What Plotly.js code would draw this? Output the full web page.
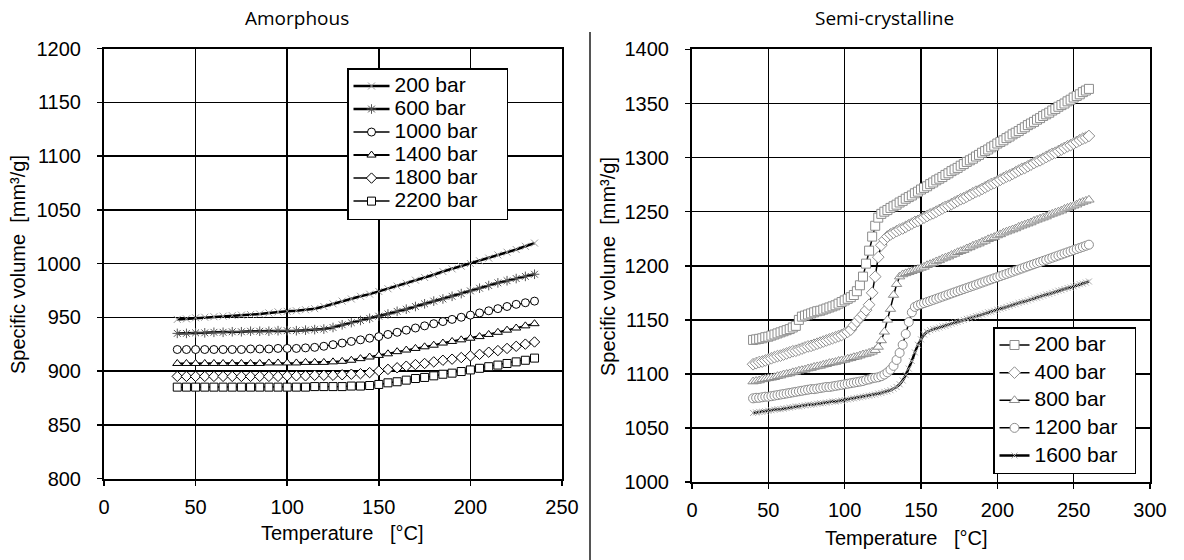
<!DOCTYPE html>
<html><head><meta charset="utf-8">
<script src="https://cdn.plot.ly/plotly-3.0.1.min.js"></script>
<style>html,body{margin:0;padding:0;background:#fff}#chart{width:1184px;height:560px}</style>
</head><body><div id="chart"></div>
<script>
// ---------- Amorphous (left) ----------
const tempAmorphous = [40,45,50,55,60,65,70,75,80,85,90,95,100,105,110,115,120,125,130,135,
  140,145,150,155,160,165,170,175,180,185,190,195,200,205,210,215,220,225,230,235];
const amorph200 = [948,948.5,949.5,950,950.5,951,951.5,952,952.5,953,954,955,955.5,956,957,958,960,962.5,965,967,
  969.5,971.5,974,976.5,979,981.5,984.5,987,989.5,992.5,995,997.5,1000,1002.5,1005,1008,1010.5,1013,1016,1019];
const amorph600 = [935,935,935.5,935.5,936,936,936.5,936.5,937,937,937,937.5,937.5,937.5,938,938.5,939,940.5,943,945,
  947,949,951,953,955.5,957.5,960,962.5,965,967,969.5,972,974.5,977,979.5,982,984,986,988,990];
const amorph1000 = [920,920,920,920,920,920,920,920,920.5,920.5,920.5,921,921,921,921.5,922,923,924.5,926,927.5,
  929,930.5,932,934,936,938,940,942,944,946,948,950,952,954,956,958,960,962,963.5,965];
const amorph1400 = [907,907,907,907,907,907,907,907,907,907,907.5,907.5,907.5,907.5,908,908,908,908.5,909,910,
  911.5,913,914.5,916,918,919.5,921,922.5,924,926,927.5,929,930.5,932,934,936,938,940,942,944];
const amorph1800 = [895,895,895,895,895,895,895,895,895,895,895,895,895.5,895.5,895.5,896,896,896,896.5,897,
  897.5,898.5,900,901.5,903,904.5,906,907,908.5,910,911,912.5,914,915.5,917.5,919,921,923,925,927];
const amorph2200 = [885,885,885,885,885,885,885,885,885,885,885,885,885,885,885,885.5,885.5,885.5,885.5,886,
  886,886.5,887.5,889,890,891.5,893,894,895.5,897,898,899.5,901,902.5,904,905.5,907,908.5,910,912];
const amorphNames = ['200 bar','600 bar','1000 bar','1400 bar','1800 bar','2200 bar'];

// ---------- Semi-crystalline (right) ----------
const tempSemi = [40,42,44,46,48,50,52,54,56,58, 60,62,64,66,68,70,72,74,76,78,
  80,82,84,86,88,90,92,94,96,98, 100,102,104,106,108,110,112,114,116,118,
  120,122,124,126,128,130,132,134,136,138, 140,142,144,146,148,150,152,154,156,158,
  160,162,164,166,168,170,172,174,176,178, 180,182,184,186,188,190,192,194,196,198,
  200,202,204,206,208,210,212,214,216,218, 220,222,224,226,228,230,232,234,236,238,
  240,242,244,246,248,250,252,254,256,258, 260];
const semi200 = [1131.5,1132,1132.5,1133,1134,1134.5,1135.5,1136.5,1137.5,1138.5,
  1139.5,1140.5,1141.5,1143,1144.5,1150,1153,1154,1155,1156,
  1157,1158,1158.5,1159.5,1160.5,1161.5,1162.5,1163.5,1165,1166.5,
  1168,1169.5,1171,1173,1176.5,1182,1190,1202,1214,1227,
  1237,1244.5,1248,1250,1251.5,1253.5,1255,1256.5,1258.5,1260,
  1262,1263.5,1265,1267,1268.5,1270.5,1272,1273.5,1275.5,1277,
  1279,1280.5,1282,1284,1285.5,1287.5,1289,1290.5,1292.5,1294,
  1296,1297.5,1299,1301,1302.5,1304.5,1306,1307.5,1309.5,1311,
  1313,1314.5,1316,1318,1319.5,1321.5,1323,1324.5,1326.5,1328,
  1330,1331.5,1333,1335,1336.5,1338.5,1340,1341.5,1343.5,1345,
  1347,1348.5,1350,1352,1353.5,1355.5,1357,1358.5,1360.5,1362,
  1363.5];
const semi400 = [1109,1110,1111,1111.5,1112.5,1113.5,1114.5,1115.5,1116.5,1117,
  1118,1119,1120,1121,1121.5,1122.5,1123.5,1124.5,1125.5,1126,
  1127,1128,1129,1130,1131,1132,1133,1134,1135,1136,
  1137.5,1139,1141,1145,1148.5,1152,1155,1159,1164,1175,
  1190,1208,1219,1224,1227,1229,1230.5,1232,1233.5,1234.5,
  1236,1237.5,1239,1240.5,1241.5,1243,1244.5,1246,1247.5,1248.5,
  1250,1251.5,1253,1254.5,1255.5,1257,1258.5,1260,1261.5,1262.5,
  1264,1265.5,1267,1268.5,1269.5,1271,1272.5,1274,1275.5,1276.5,
  1278,1279.5,1281,1282.5,1283.5,1285,1286.5,1288,1289.5,1290.5,
  1292,1293.5,1295,1296.5,1297.5,1299,1300.5,1302,1303.5,1304.5,
  1306,1307.5,1309,1310.5,1311.5,1313,1314.5,1316,1317.5,1318.5,
  1320];
const semi800 = [1093,1093.5,1094,1095,1095.5,1096,1096.5,1097,1098,1098.5,
  1099.5,1100,1100.5,1101.5,1102,1103,1103.5,1104,1105,1105.5,
  1106.5,1107,1107.5,1108.5,1109,1110,1110.5,1111,1112,1112.5,
  1113,1114,1114.5,1115.5,1116,1117,1118,1118.5,1119.5,1120.5,
  1122,1125,1131,1139,1150,1160,1173,1183,1190,1192,
  1193,1194,1195,1196,1197,1198,1199,1200.5,1201.5,1202.5,
  1204,1205,1206.5,1207.5,1208.5,1210,1211,1212.5,1213.5,1214.5,
  1216,1217,1218.5,1219.5,1220.5,1222,1223,1224.5,1225.5,1226.5,
  1228,1229,1230.5,1231.5,1232.5,1233.5,1234.5,1236,1237,1238,
  1239,1240,1241.5,1242.5,1243.5,1244.5,1245.5,1247,1248,1249,
  1250,1251,1252.5,1253.5,1254.5,1255.5,1256.5,1258,1259,1260,
  1261];
const semi1200 = [1077.5,1078,1078,1078.5,1079,1079,1079.5,1080,1080.5,1081,
  1081.5,1082,1082.5,1083,1083.5,1084,1084.5,1085,1085.5,1086,
  1086,1086.5,1087,1087.5,1088,1088,1088.5,1089,1089.5,1090,
  1090.5,1091,1091.5,1092,1092.5,1093,1093.5,1094.5,1095,1096,
  1096.5,1097,1098,1099.5,1101.5,1104,1107.5,1113,1119.5,1127,
  1137,1148,1157,1162,1163.5,1164.5,1165.5,1166.5,1167.5,1168.5,
  1169.5,1170.5,1171.5,1172.5,1173.5,1174.5,1175.5,1176.5,1177.5,1178.5,
  1179.5,1180.5,1181.5,1182.5,1183.5,1184.5,1185.5,1186.5,1187.5,1188.5,
  1189.5,1190.5,1191.5,1192.5,1193.5,1194.5,1195.5,1196.5,1197.5,1198.5,
  1199.5,1200.5,1201.5,1202.5,1203.5,1204.5,1205.5,1206.5,1207.5,1208.5,
  1209.5,1210.5,1211.5,1212.5,1213.5,1214.5,1215.5,1216.5,1217.5,1218.5,
  1219.5];
const semi1600 = [1064,1064.5,1065,1065,1065.5,1066,1066.5,1067,1067.5,1067.5,
  1068,1068.5,1069,1069.5,1070,1070,1070.5,1071,1071.5,1071.5,
  1072,1072.5,1073,1073,1073.5,1074,1074.5,1074.5,1075,1075.5,
  1076,1076.5,1077,1077.5,1078,1078.5,1079,1079.5,1080,1080.5,
  1081,1082,1082.5,1083.5,1084,1085,1086.5,1088,1090.5,1094,
  1099,1105,1112,1120,1127,1132,1136.5,1139,1140.5,1141.5,
  1142,1143,1144,1144.5,1145.5,1146.5,1147.5,1148,1149,1150,
  1151,1151.5,1152.5,1153.5,1154,1155,1156,1157,1157.5,1158.5,
  1159.5,1160.5,1161,1162,1163,1164,1164.5,1165.5,1166.5,1167,
  1168,1169,1170,1170.5,1171.5,1172.5,1173.5,1174,1175,1176,
  1177,1177.5,1178.5,1179.5,1180,1181,1182,1183,1183.5,1184.5,
  1185.5];
const semiNames = ['200 bar','400 bar','800 bar','1200 bar','1600 bar'];

const xTicks = [0,50,100,150,200,250,300];
const FONT = 'Arial, Liberation Sans, sans-serif';

function lg(s, pad){ return '<span style="font-size:21px">' + s + '\u00a0'.repeat(pad) + '</span>'; }

const traces = [];
const leftY = [amorph200, amorph600, amorph1000, amorph1400, amorph1800, amorph2200];
const leftStyle = [
  {line:{color:'#000',width:2.5}, marker:{symbol:'x-thin',size:7,color:'#999',line:{color:'#999',width:1}}},
  {line:{color:'#000',width:2.5}, marker:{symbol:'asterisk',size:8,color:'#555',line:{color:'#555',width:1}}},
  {line:{color:'#000',width:1.5}, marker:{symbol:'circle',size:8,color:'#fff',line:{color:'#000',width:1}}},
  {line:{color:'#000',width:2}, marker:{symbol:'triangle-up',size:8,color:'#fff',line:{color:'#000',width:1}}},
  {line:{color:'#000',width:1.5}, marker:{symbol:'diamond',size:8,color:'#fff',line:{color:'#000',width:1}}},
  {line:{color:'#000',width:1.5}, marker:{symbol:'square',size:8,color:'#fff',line:{color:'#000',width:1}}}
];
leftY.forEach((ys,i)=>{
  traces.push(Object.assign({x:tempAmorphous, y:ys, name:lg(amorphNames[i], 4), type:'scatter', mode:'lines+markers',
    xaxis:'x', yaxis:'y', legend:'legend'}, leftStyle[i]));
});
const rightY = [semi200, semi400, semi800, semi1200, semi1600];
const gray = '#8c8c8c';
const rightStyle = [
  {line:{color:'#000',width:1.5}, marker:{symbol:'square',size:9,color:'#fff',line:{color:gray,width:1}}},
  {line:{color:'#000',width:1.5}, marker:{symbol:'diamond',size:9,color:'#fff',line:{color:gray,width:1}}},
  {line:{color:'#000',width:1.5}, marker:{symbol:'triangle-up',size:9,color:'#fff',line:{color:gray,width:1}}},
  {line:{color:'#000',width:1.5}, marker:{symbol:'circle',size:9,color:'#fff',line:{color:gray,width:1}}},
  {line:{color:'#000',width:2.5}, marker:{symbol:'x-thin',size:6,color:'#aaa',line:{color:'#aaa',width:1}}}
];
rightY.forEach((ys,i)=>{
  traces.push(Object.assign({x:tempSemi, y:ys, name:lg(semiNames[i], 2), type:'scatter', mode:'lines+markers',
    xaxis:'x2', yaxis:'y2', legend:'legend2', legendgroup:'g'+i}, rightStyle[i]));
});

function xax(domain, range, anchor){
  return {domain:domain, range:range, anchor:anchor, tickmode:'array', tickvals:xTicks, ticktext:xTicks.map(String),
    showgrid:true, gridcolor:'#000', gridwidth:1.5, showline:true, linecolor:'#000', linewidth:2, mirror:true,
    ticks:'outside', ticklen:5, tickwidth:1.5, tickcolor:'#000', zeroline:false,
    tickfont:{family:FONT,size:20,color:'#000'}, ticklabelstandoff:4, fixedrange:true};
}
function yax(domain, range, anchor){
  return {domain:domain, range:range, anchor:anchor, dtick:50, tick0:0,
    showgrid:true, gridcolor:'#000', gridwidth:1.5, showline:true, linecolor:'#000', linewidth:2, mirror:true,
    ticks:'outside', ticklen:5, tickwidth:1.5, tickcolor:'#000', zeroline:false,
    tickfont:{family:FONT,size:20,color:'#000'}, ticklabelstandoff:12, fixedrange:true};
}
const titleFont = {family:FONT,size:20,color:'#000'};
const layout = {
  width:1184, height:560, margin:{l:0,r:0,t:0,b:0}, paper_bgcolor:'#fff', plot_bgcolor:'#fff',
  showlegend:true,
  xaxis: xax([104/1184, 562/1184],[0,250],'y'),
  yaxis: yax([1-478.5/560, 1-48.5/560],[800,1200],'x'),
  xaxis2: xax([692/1184, 1150/1184],[0,300],'y2'),
  yaxis2: yax([1-482.2/560, 1-49.4/560],[1000,1400],'x2'),
  legend:{x:347/1184, y:1-68/560, xanchor:'left', yanchor:'top', bgcolor:'#fff', bordercolor:'#000', borderwidth:1.5,
    font:{family:FONT,size:15.4,color:'#000'}, tracegroupgap:0, itemwidth:36},
  legend2:{x:993/1184, y:1-327/560, xanchor:'left', yanchor:'top', bgcolor:'#fff', bordercolor:'#000', borderwidth:1.5,
    font:{family:FONT,size:15.4,color:'#000'}, tracegroupgap:4.6, itemwidth:30},
  annotations:[
    {text:'Amorphous', x:297/1184, y:1-18/560, xref:'paper', yref:'paper', showarrow:false, xanchor:'center', yanchor:'middle',
      font:{family:'Open Sans, sans-serif', size:19, color:'#000'}},
    {text:'Semi-crystalline', x:884/1184, y:1-18/560, xref:'paper', yref:'paper', showarrow:false, xanchor:'center', yanchor:'middle',
      font:{family:'Open Sans, sans-serif', size:19, color:'#000'}},
    {text:'Temperature\u00a0\u00a0\u00a0[°C]', x:342/1184, y:1-533/560, xref:'paper', yref:'paper', showarrow:false, xanchor:'center', yanchor:'middle', font:titleFont},
    {text:'Temperature\u00a0\u00a0\u00a0[°C]', x:906/1184, y:1-538/560, xref:'paper', yref:'paper', showarrow:false, xanchor:'center', yanchor:'middle', font:titleFont},
    {text:'Specific volume\u00a0\u00a0[mm³/g]', x:18/1184, y:1-265/560, xref:'paper', yref:'paper', showarrow:false, xanchor:'center', yanchor:'middle', textangle:-90, font:titleFont},
    {text:'Specific volume\u00a0\u00a0[mm³/g]', x:608/1184, y:1-267/560, xref:'paper', yref:'paper', showarrow:false, xanchor:'center', yanchor:'middle', textangle:-90, font:titleFont}
  ],
  shapes:[
    {type:'line', xref:'paper', yref:'paper', x0:590/1184, x1:590/1184, y0:0, y1:1-32/560, line:{color:'#555',width:2}}
  ]
};
Plotly.newPlot('chart', traces, layout, {staticPlot:true, displayModeBar:false});
</script>
</body></html>
